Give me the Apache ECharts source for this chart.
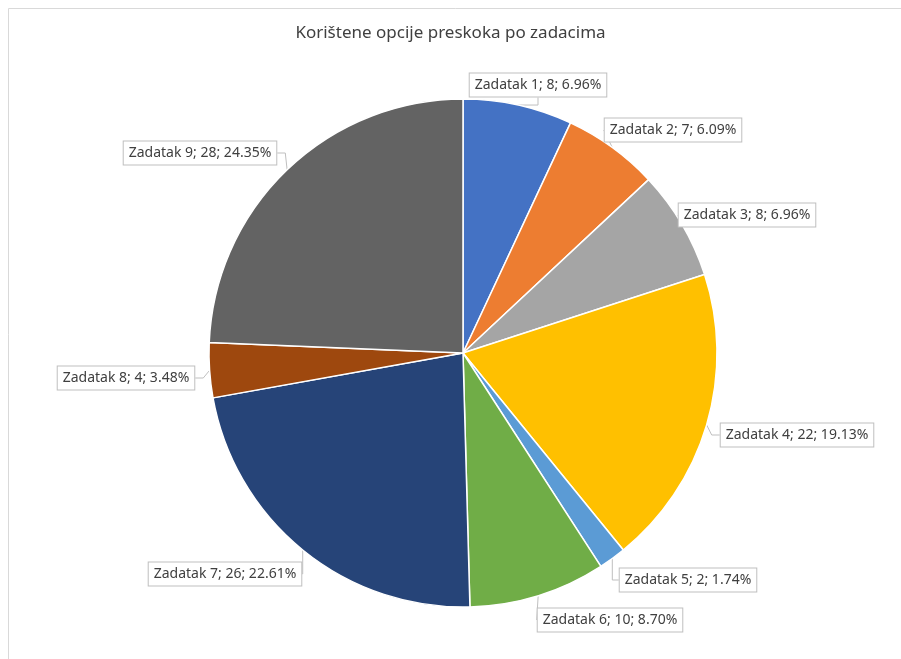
<!DOCTYPE html>
<html>
<head>
<meta charset="utf-8">
<script src="https://cdn.jsdelivr.net/npm/echarts@6/dist/echarts.min.js"></script>
<style>
  html, body { margin: 0; padding: 0; background: #fff; }
  #chart { width: 901px; height: 659px; }
</style>
</head>
<body>
<div id="chart"></div>
<script>
const categories = ['Zadatak 1', 'Zadatak 2', 'Zadatak 3', 'Zadatak 4', 'Zadatak 5',
  'Zadatak 6', 'Zadatak 7', 'Zadatak 8', 'Zadatak 9'];
const values = [8, 7, 8, 22, 2, 10, 26, 4, 28];
const percents = ['6.96%', '6.09%', '6.96%', '19.13%', '1.74%', '8.70%', '22.61%', '3.48%', '24.35%'];
const colors = ['#4472C4', '#ED7D31', '#A5A5A5', '#FFC000', '#5B9BD5',
  '#70AD47', '#264478', '#9E480E', '#636363'];

// where Excel put each callout box (centre of the box)
const labelSpots = [
  [538, 85], [673, 130], [747, 215], [797, 435], [688, 580],
  [610, 620], [225, 574], [126, 378], [200, 153]
];

const chart = echarts.init(document.getElementById('chart'));

chart.setOption({
  animation: false,
  color: colors,
  title: {
    text: 'Korištene opcije preskoka po zadacima',
    left: 'center',
    top: 20,
    textStyle: {
      fontFamily: 'Noto Sans',
      fontSize: 17,
      fontWeight: 'normal',
      color: '#404040'
    }
  },
  graphic: [{
    type: 'rect',
    shape: { x: 8.5, y: 8.5, width: 1000, height: 1000 },
    style: { fill: 'none', stroke: '#d9d9d9', lineWidth: 1 },
    silent: true
  }],
  series: [{
    type: 'pie',
    center: [463, 353],
    radius: 254,
    startAngle: 90,
    clockwise: true,
    avoidLabelOverlap: false,
    itemStyle: {
      borderColor: '#ffffff',
      borderWidth: 1.5
    },
    label: {
      show: true,
      position: 'outside',
      formatter: p => p.name + '; ' + p.value + '; ' + percents[p.dataIndex],
      fontFamily: 'Noto Sans',
      fontSize: 14,
      color: '#404040',
      backgroundColor: '#ffffff',
      borderColor: '#bfbfbf',
      borderWidth: 1,
      padding: [5, 5, 4, 5]
    },
    labelLine: {
      show: true,
      length: 8,
      length2: 8,
      smooth: false,
      lineStyle: { color: '#bfbfbf', width: 1 }
    },
    labelLayout: p => ({
      x: labelSpots[p.dataIndex][0],
      y: labelSpots[p.dataIndex][1],
      align: 'center',
      verticalAlign: 'middle'
    }),
    emphasis: { disabled: true },
    data: categories.map((c, i) => ({ name: c, value: values[i] }))
  }]
});
</script>
</body>
</html>
